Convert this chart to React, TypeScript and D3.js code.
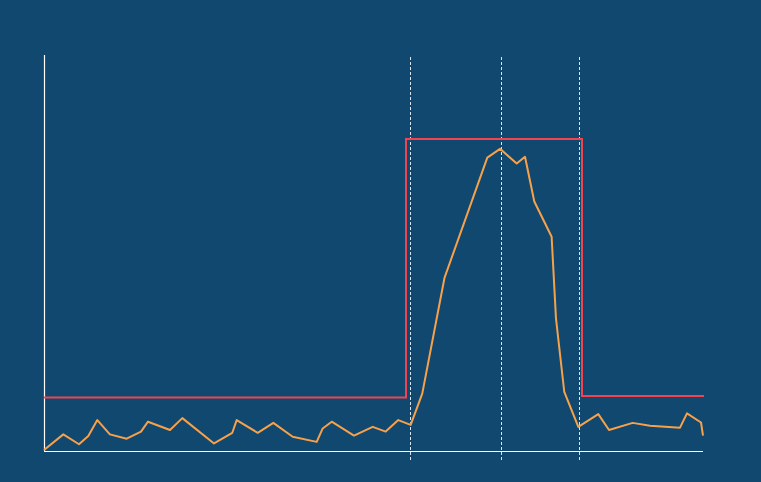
import React from "react";
import * as d3 from "d3";

const W = 761;
const H = 482;

// orange series (x in 0..100, y in 0..100)
const seriesX = [0, 2.93, 5.31, 6.72, 8.09, 10.0, 12.55, 14.72, 15.78, 19.12, 20.99, 25.8, 28.57, 29.24, 32.43, 34.8, 37.74, 41.38, 42.29, 43.66, 47.04, 49.88, 51.85, 53.76, 55.64, 57.4, 60.77, 67.27, 69.2, 71.73, 72.99, 74.4, 77.03, 77.69, 78.95, 81.08, 84.11, 85.74, 89.33, 91.96, 96.51, 97.57, 99.7, 100];
const seriesY = [0.25, 4.2, 1.7, 3.8, 7.8, 4.2, 3.1, 4.9, 7.4, 5.3, 8.3, 1.9, 4.6, 7.8, 4.6, 7.1, 3.6, 2.3, 5.7, 7.4, 3.9, 6.1, 4.9, 7.8, 6.6, 14.5, 43.7, 74.1, 76.3, 72.6, 74.3, 63.0, 54.1, 33.5, 14.9, 6.1, 9.3, 5.3, 7.1, 6.4, 5.9, 9.5, 7.2, 3.9];

// red step (window) series
const stepX = [0, 54.93, 54.93, 81.64, 81.64, 100.15];
const stepY = [13.5, 13.5, 78.8, 78.8, 13.9, 13.9];

// dashed markers
const markers = [55.56, 69.38, 81.21];

export default function App() {
  const x = d3.scaleLinear().domain([0, 100]).range([44, 703]);
  const y = d3.scaleLinear().domain([0, 100]).range([451, 55]);

  const line = d3
    .line<number>()
    .x((_, i) => x(seriesX[i]))
    .y((d) => y(d));
  const stepLine = d3
    .line<number>()
    .x((_, i) => x(stepX[i]))
    .y((d) => y(d));

  return (
    <div style={{ position: "fixed", left: 0, top: 0 }}>
      <svg width={W} height={H} style={{ display: "block" }}>
        <rect width={W} height={H} fill="#10486f" />
        {markers.map((m, i) => (
          <line
            key={i}
            x1={Math.round(x(m)) + 0.5}
            x2={Math.round(x(m)) + 0.5}
            y1={57}
            y2={460}
            stroke="#d8e4ee"
            strokeWidth={1}
            strokeDasharray="3,2"
          />
        ))}
        <line x1={44.5} x2={44.5} y1={y(100)} y2={y(0)} stroke="#ffffff" strokeWidth={1.2} />
        <line x1={x(0)} x2={x(100)} y1={451.5} y2={451.5} stroke="#ffffff" strokeWidth={1.2} />
        <path d={stepLine(stepY) || ""} fill="none" stroke="#f2434f" strokeWidth={2} />
        <path d={line(seriesY) || ""} fill="none" stroke="#f7a14b" strokeWidth={2} strokeLinejoin="round" />
      </svg>
    </div>
  );
}
